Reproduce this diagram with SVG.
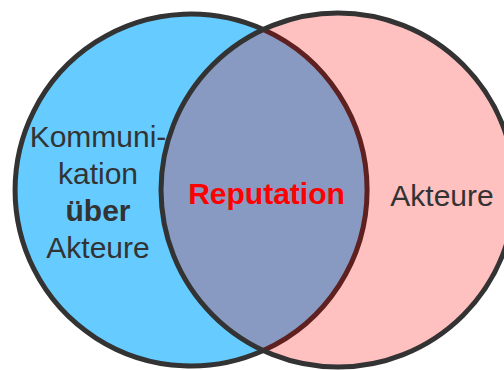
<svg xmlns="http://www.w3.org/2000/svg" width="504" height="370" viewBox="0 0 504 370">
  <style>
    .lbl { font-family: "Liberation Sans", Arial, sans-serif; font-size: 30px; fill: #333333; text-anchor: middle; }
    .bold { font-weight: bold; }
    .rep { font-family: "Liberation Sans", Arial, sans-serif; font-size: 30px; font-weight: bold; fill: #FF0000; text-anchor: middle; }
    .edge { fill: none; stroke: #333333; stroke-width: 5; }
  </style>
  <rect width="504" height="370" fill="#FFFFFF"/>
  <g id="left-set">
    <circle cx="191" cy="190" r="176" fill="#66CCFF"/>
  </g>
  <g id="right-set">
    <circle cx="338" cy="190" r="177" fill="#FFC0C0"/>
  </g>
  <g id="overlap">
    <path d="M 263.3 29.5 A 176 176 0 0 1 263.3 350.5 A 177 177 0 0 1 263.3 29.5 Z" fill="#889AC1"/>
  </g>
  <g id="outlines">
    <path class="edge" d="M 263.3 350.5 A 176 176 0 1 1 263.3 29.5"/>
    <path d="M 263.3 29.5 A 176 176 0 0 1 263.3 350.5" fill="none" stroke="#5F2020" stroke-width="5"/>
    <circle class="edge" cx="338" cy="190" r="177"/>
  </g>
  <g id="labels">
    <text class="lbl" x="98" y="147">Kommuni-</text>
    <text class="lbl" x="98" y="184">kation</text>
    <text class="lbl bold" x="98" y="221">über</text>
    <text class="lbl" x="98" y="258">Akteure</text>
    <text class="rep" x="266.5" y="204">Reputation</text>
    <text class="lbl" x="442" y="206">Akteure</text>
  </g>
</svg>
